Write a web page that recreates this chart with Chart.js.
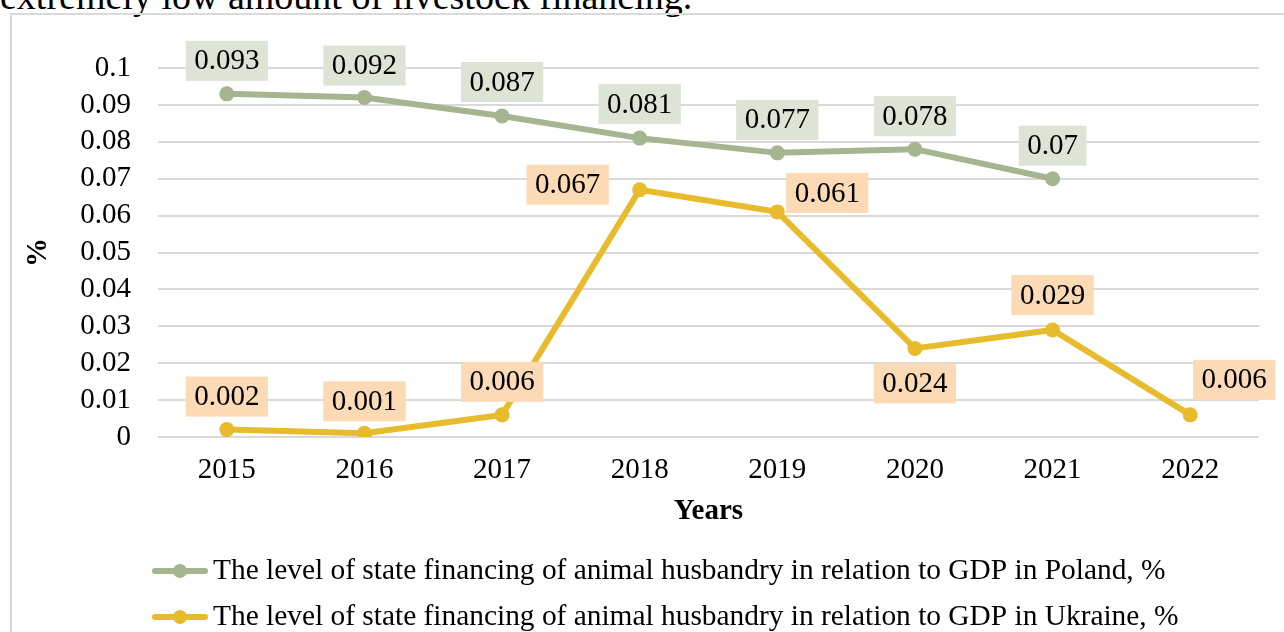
<!DOCTYPE html>
<html>
<head>
<meta charset="utf-8">
<script src="https://cdn.jsdelivr.net/npm/chart.js@4.4.1/dist/chart.umd.min.js"></script>
<style>
  html, body { margin: 0; padding: 0; background: #fff; width: 1284px; height: 632px; overflow: hidden; }
  #topText { position: absolute; left: 0; top: -23px; font: 38px "Liberation Serif", "Times New Roman", serif; line-height: 38px; color: #000; white-space: nowrap; }
  #frame { position: absolute; left: 10px; top: 13px; width: 1300px; height: 700px; border: 2px solid #d9d9d9; }
  #chartWrap { position: absolute; left: 0; top: 0; width: 1284px; height: 632px; }
</style>
</head>
<body>
<div id="topText">extremely low amount of livestock financing.</div>
<div id="frame"></div>
<div id="chartWrap"><canvas id="chart" width="1284" height="632"></canvas></div>
<script>
// данные графика
const years = ['2015', '2016', '2017', '2018', '2019', '2020', '2021', '2022'];
const polandValues = [0.093, 0.092, 0.087, 0.081, 0.077, 0.078, 0.07, null];
const ukraineValues = [0.002, 0.001, 0.006, 0.067, 0.061, 0.024, 0.029, 0.006];
const yTickLabels = ['0', '0.01', '0.02', '0.03', '0.04', '0.05', '0.06', '0.07', '0.08', '0.09', '0.1'];
const polandName = 'The level of state financing of animal husbandry in relation to GDP in Poland, %';
const ukraineName = 'The level of state financing of animal husbandry in relation to GDP in Ukraine, %';

const FONT = '"Liberation Serif", "Times New Roman", serif';
const FSIZE = 29;
const polandColor = '#a4b590';
const ukraineColor = '#e7bb2b';

// label box placement (dx, dy from the point)
const polandLabelPos = [[0, -33], [0, -32], [0, -34], [0, -34], [0, -33], [0, -33], [0, -33], [0, 0]];
const ukraineLabelPos = [[0, -33], [0, -32], [0, -33], [-72, -5], [50, -19], [0, 35], [0, -35], [44, -35]];

// Data labels with background boxes
const boxLabels = {
    id: 'boxLabels',
    afterDatasetsDraw(chart) {
        const ctx = chart.ctx;
        ctx.save();
        ctx.font = FSIZE + 'px ' + FONT;
        ctx.textAlign = 'center';
        ctx.textBaseline = 'middle';
        chart.data.datasets.forEach((ds, di) => {
            const meta = chart.getDatasetMeta(di);
            meta.data.forEach((pt, i) => {
                const v = ds.data[i];
                if (v === null || v === undefined) return;
                const off = ds.labelPos[i];
                const txt = String(v);
                const w = ctx.measureText(txt).width + 17;
                const h = 40;
                const cx = pt.x + off[0];
                const cy = pt.y + off[1];
                ctx.fillStyle = ds.labelBg;
                ctx.fillRect(cx - w / 2, cy - h / 2, w, h);
                ctx.fillStyle = '#000';
                ctx.fillText(txt, cx, cy + 1);
            });
        });
        ctx.restore();
    }
};

// Legend drawn under the axis
const sideLegend = {
    id: 'sideLegend',
    afterDraw(chart) {
        const ctx = chart.ctx;
        const rows = [571, 617];
        ctx.save();
        chart.data.datasets.forEach((ds, i) => {
            const y = rows[i];
            ctx.strokeStyle = ds.borderColor;
            ctx.lineWidth = 6;
            ctx.lineCap = 'round';
            ctx.beginPath();
            ctx.moveTo(155, y);
            ctx.lineTo(205, y);
            ctx.stroke();
            ctx.fillStyle = ds.borderColor;
            ctx.beginPath();
            ctx.arc(180, y, 7, 0, Math.PI * 2);
            ctx.fill();
            ctx.fillStyle = '#000';
            ctx.font = '29.4px ' + FONT;
            ctx.textAlign = 'left';
            ctx.textBaseline = 'middle';
            ctx.fillText(ds.label, 213, y);
        });
        ctx.restore();
    }
};

new Chart(document.getElementById('chart'), {
    type: 'line',
    data: {
        labels: years,
        datasets: [{
            label: polandName,
            data: polandValues,
            borderColor: polandColor,
            backgroundColor: polandColor,
            borderWidth: 6,
            pointRadius: 7.5,
            pointBorderWidth: 0,
            pointBackgroundColor: polandColor,
            labelBg: '#dde3d5',
            labelPos: polandLabelPos
        }, {
            label: ukraineName,
            data: ukraineValues,
            borderColor: ukraineColor,
            backgroundColor: ukraineColor,
            borderWidth: 6,
            pointRadius: 7.5,
            pointBorderWidth: 0,
            pointBackgroundColor: ukraineColor,
            labelBg: '#fcdab6',
            labelPos: ukraineLabelPos
        }]
    },
    options: {
        responsive: false,
        animation: false,
        layout: { padding: { left: 0, right: 25, top: 68, bottom: 90 } },
        plugins: {
            legend: { display: false },
            tooltip: { enabled: false }
        },
        scales: {
            x: {
                offset: true,
                grid: { display: false, drawTicks: false },
                border: { display: false },
                ticks: { color: '#000', font: { family: FONT, size: FSIZE }, padding: 16, autoSkip: false, maxRotation: 0 },
                title: {
                    display: true, text: 'Years', color: '#000',
                    font: { family: FONT, size: FSIZE, weight: 'bold' },
                    padding: { top: 0, bottom: 13 }
                },
                afterFit(scale) { scale.height = 105; }
            },
            y: {
                min: 0, max: 0.1,
                ticks: {
                    stepSize: 0.01,
                    autoSkip: false,
                    color: '#000',
                    font: { family: FONT, size: FSIZE },
                    padding: 27,
                    callback: (v, i) => yTickLabels[i]
                },
                grid: { color: '#d9d9d9', lineWidth: 2, drawTicks: false },
                border: { display: false },
                title: {
                    display: true, text: '%', color: '#000',
                    font: { family: FONT, size: FSIZE, weight: 'bold' },
                    padding: { top: 21, bottom: 0 }
                },
                afterFit(scale) { scale.width = 158; }
            }
        }
    },
    plugins: [boxLabels, sideLegend]
});
</script>
</body>
</html>
